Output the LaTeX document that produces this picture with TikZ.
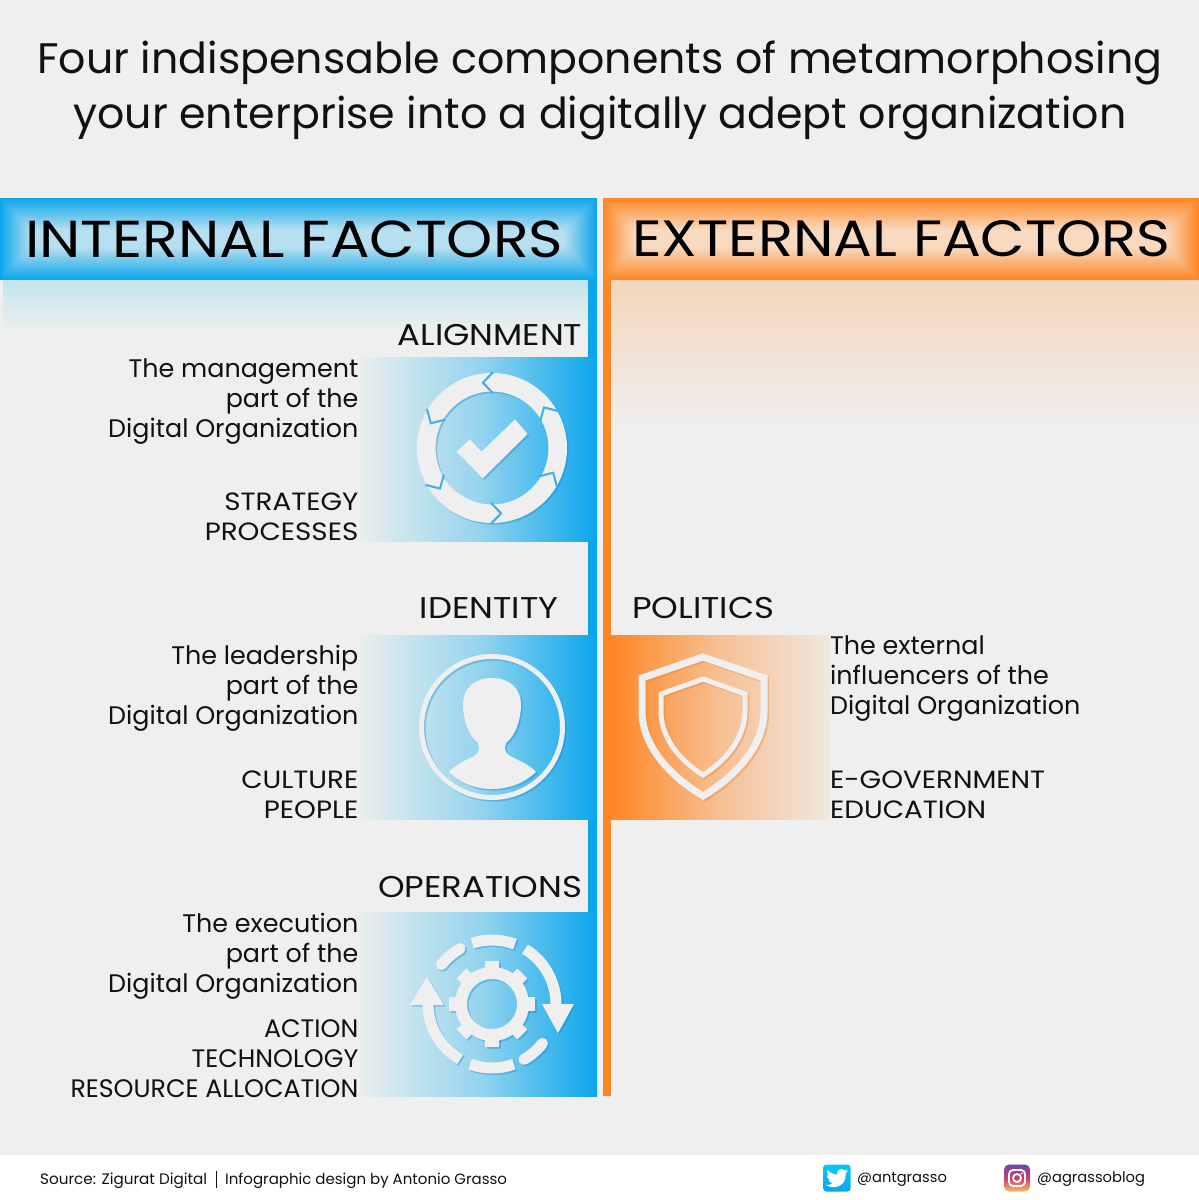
\documentclass[tikz,border=0pt]{standalone}
\usepackage{fontspec}
\setmainfont{Poppins}
\newfontfamily\capsfont[FakeStretch=1.13]{Poppins}
\newfontfamily\listfont[FakeStretch=1.11]{Poppins}
\usetikzlibrary{
  positioning,
  calc
}
\definecolor{pagegray}{RGB}{239,239,239}
\definecolor{intblue}{RGB}{10,166,236}
\definecolor{intlight}{RGB}{184,223,240}
\definecolor{intfade}{RGB}{195,228,238}
\definecolor{extorange}{RGB}{255,134,36}
\definecolor{extlight}{RGB}{248,218,192}
\definecolor{extfade}{RGB}{243,214,188}
\definecolor{panelblue}{RGB}{234,238,238}
\definecolor{panelbluemid}{RGB}{150,212,238}
\definecolor{panelorange}{RGB}{240,232,224}
\definecolor{panelorangemid}{RGB}{246,192,148}
\definecolor{inktext}{RGB}{17,17,17}
\definecolor{shadowblue}{RGB}{16,130,200}
\definecolor{shadoworange}{RGB}{230,120,40}
\definecolor{notchblue}{RGB}{60,175,232}
\definecolor{igpurple}{RGB}{112,70,172}
\definecolor{igred}{RGB}{205,60,110}
\definecolor{igyellow}{RGB}{250,190,90}

\begin{document}
\begin{tikzpicture}[
  x=1pt, y=-1pt,
  headtext/.style={inner sep=0pt, text=black, font=\capsfont\fontsize{52}{60}\selectfont},
  sectext/.style={inner sep=0pt, text=inktext, font=\capsfont\fontsize{30}{34}\selectfont},
  bodytext/.style={inner sep=0pt, text=inktext, align=right, anchor=north east,
                   font=\fontsize{25.4}{30}\selectfont},
  listtext/.style={bodytext, font=\listfont\fontsize{25}{30}\selectfont},
  foottext/.style={inner sep=0pt, text=inktext, anchor=west, font=\fontsize{15}{18}\selectfont},
  handletext/.style={foottext, font=\fontsize{14.7}{18}\selectfont},
  bluepanel/.style={inner sep=0pt, minimum width=237pt, minimum height=184pt,
                    left color=panelblue, right color=intblue, middle color=panelbluemid},
  orangepanel/.style={inner sep=0pt, minimum width=219pt, minimum height=184pt,
                      left color=extorange, right color=panelorange, middle color=panelorangemid},
  ringline/.style={line width=11pt}
]
\useasboundingbox (0,0) rectangle (1199,1200);
\fill[pagegray] (0,0) rectangle (1199,1200);
\fill[white] (0,1155) rectangle (1199,1200);

\node[inner sep=0pt, text=inktext, align=center, font=\fontsize{42.7}{55}\selectfont]
  (title) at (600,90) {Four indispensable components of metamorphosing\\your enterprise into a digitally adept organization};

% Headers
\foreach \i in {0,...,32}{
  \pgfmathtruncatemacro\mixval{100-3.1*\i}
  \pgfmathsetmacro\cornerval{\i/4}
  \fill[intblue!\mixval!intlight, rounded corners=\cornerval pt] (\i,198+\i) rectangle (597-\i,280-\i);
  \fill[extorange!\mixval!extlight, rounded corners=\cornerval pt] (603+\i,198+\i) rectangle (1199-\i,280-\i);
}
\node[headtext, anchor=west] (inthead) at (25,239) {INTERNAL FACTORS};
\node[headtext, anchor=east, font=\capsfont\fontsize{51}{60}\selectfont] (exthead) at (1171,239) {EXTERNAL FACTORS};

\shade[top color=intfade, bottom color=pagegray] (3,280) rectangle (588,332);
\shade[top color=extfade, bottom color=pagegray] (611,280) rectangle (1199,430);
\fill[intblue] (588,280) rectangle (597,1096);
\fill[extorange] (603,280) rectangle (611,1096);

% Panels
\node[bluepanel] (alignpanel) at (478.5,449) {};
\node[bluepanel] (identpanel) at (478.5,727) {};
\node[bluepanel] (operpanel) at (478.5,1004.5) {};
\node[orangepanel] (polipanel) at (720.5,727) {};

\node[sectext, anchor=east] (alignhead) at (582.5,335) {ALIGNMENT};
\node[sectext, anchor=east] (identhead) at (558.5,608.5) {IDENTITY};
\node[sectext, anchor=east] (operhead) at (582.5,887) {OPERATIONS};
\node[sectext, anchor=west] (polihead) at (632,608.5) {POLITICS};

\node[bodytext] (aligntext) at (358.5,358) {The management\\part of the\\Digital Organization};
\node[listtext] (alignlist) at (358.5,493) {STRATEGY\\PROCESSES};
\node[bodytext] (identtext) at (358.5,644.5) {The leadership\\part of the\\Digital Organization};
\node[listtext] (identlist) at (358.5,771) {CULTURE\\PEOPLE};
\node[bodytext] (opertext) at (358.5,912.5) {The execution\\part of the\\Digital Organization};
\node[bodytext, font=\fontsize{25.3}{30}\selectfont] (operlist) at (358.5,1019) {ACTION\\TECHNOLOGY\\RESOURCE ALLOCATION};
\node[bodytext, align=left, anchor=north west] (politext) at (830,635) {The external\\influencers of the\\Digital Organization};
\node[listtext, align=left, anchor=north west] (polilist) at (830,771) {E-GOVERNMENT\\EDUCATION};

% Icons
\coordinate (cycle) at (492,448);
\coordinate (person) at (492,727);
\coordinate (gear) at (492,1004);

\foreach \sx/\col/\op in {1.6/shadowblue/.35, 0/pagegray/1}{
  \begin{scope}[shift={(cycle)}, shift={(\sx,\sx)}, y=1pt, opacity=\op]
    \fill[\col, even odd rule] (0,0) circle (75) (0,0) circle (56.5);
    \fill[\col] (-35.3,-3.7) -- (-22,8.7) -- (-10.3,-3.7) -- (23,28.7) -- (35.7,14) -- (-9.3,-30.3) -- cycle;
  \end{scope}
  \begin{scope}[shift={(person)}, shift={(\sx,\sx)}, opacity=\op]
    \draw[\col, line width=5pt] (0,0) circle (70.5);
    \fill[\col] (0,-49) .. controls (18,-49) and (29,-38) .. (29,-23)
      .. controls (29,-8) and (24,8) .. (14,16) .. controls (12,22) and (13,26) .. (18,29)
      .. controls (28,34) and (38,38) .. (44,45) .. controls (30,58) and (14,62) .. (0,62)
      .. controls (-14,62) and (-30,58) .. (-43,45) .. controls (-37,38) and (-28,34) .. (-18,29)
      .. controls (-13,26) and (-12,22) .. (-14,16) .. controls (-24,8) and (-29,-8) .. (-29,-23)
      .. controls (-29,-38) and (-18,-49) .. (0,-49) -- cycle;
  \end{scope}
  \begin{scope}[shift={(gear)}, shift={(\sx,\sx)}, y=1pt, opacity=\op]
    \draw[\col, line width=12pt] (0,0) circle (31);
    \foreach \a in {0,45,...,315}
      \draw[\col, line width=14pt] (\a:32) -- (\a:43);
    \draw[ringline, \col] (108:64) arc (108:69:64);
    \draw[ringline, \col] (250:64) arc (250:290:64);
    \draw[ringline, \col, line cap=round] (120:64) arc (120:142:64);
    \draw[ringline, \col, line cap=round] (-60:64) arc (-60:-38:64);
    \draw[ringline, \col] (59:64) arc (59:0:64);
    \draw[ringline, \col] (240:64) arc (240:180:64);
    \fill[\col] (50,0) -- (82,0) -- (66,-29) -- cycle;
    \fill[\col] (-82,-1) -- (-48,-1) -- (-65,27) -- cycle;
  \end{scope}
}
\foreach \a in {89,29,-31,-91,-151,149}
  \draw[notchblue, line width=2pt, shift={(cycle)}, y=1pt] (\a:76) -- ({\a+9}:66) -- (\a:55);

\foreach \sx/\col/\op in {1.6/shadoworange/.35, 0/pagegray/1}{
  \begin{scope}[shift={(703,0)}, shift={(\sx,\sx)}, opacity=\op, line join=miter]
    \draw[\col, line width=7pt] (0,657) -- (61,678) -- (61,713)
      .. controls (60,745) and (35,775) .. (0,796)
      .. controls (-35,775) and (-60,745) .. (-61,713) -- (-61,678) -- cycle;
    \draw[\col, line width=5pt] (0,679) -- (42,694) -- (42,713)
      .. controls (41,738) and (24,760) .. (0,775)
      .. controls (-24,760) and (-41,738) .. (-42,713) -- (-42,694) -- cycle;
  \end{scope}
}

% Footer
\node[foottext, font=\fontsize{15.2}{18}\selectfont] (source) at (40,1181) {Source: Zigurat Digital};
\node[foottext] (design) at (225,1181) {Infographic design by Antonio Grasso};
\draw[inktext, line width=1pt] (216,1171) -- (216,1188);
\node[handletext] (twname) at (857,1179.5) {@antgrasso};
\node[handletext] (igname) at (1037,1179.5) {@agrassoblog};

\node[inner sep=0pt, minimum width=27pt, minimum height=27pt, rounded corners=3pt,
      top color=intblue!60!cyan, bottom color=intblue] (twicon) at (837,1178) {};
\begin{scope}[shift={(twicon.center)}, scale=.92, shift={(-12,-12)}]
  \fill[white] (23.95,4.57) -- (21.1,5.3) -- (23.3,2.6) -- (20.2,3.8) .. controls (18.5,1.8) and (15.5,1.8) .. (13.7,3.4)
    .. controls (12.3,4.7) and (11.5,6.3) .. (12.1,8.3) .. controls (7.7,8.1) and (4.1,6.1) .. (1.6,3.2)
    .. controls (.6,5) and (1.2,8.2) .. (3.2,9.7) -- (.9,9.1) .. controls (1,11.5) and (2.7,13.5) .. (4.9,14)
    -- (2.7,14.1) .. controls (3.4,16) and (5.2,17.4) .. (7.3,17.5) .. controls (5.4,19) and (2.8,19.8) .. (0,19.5)
    .. controls (7,24) and (15,22) .. (19,17) .. controls (21,14) and (21.6,11) .. (21.5,7.1) -- cycle;
\end{scope}
\node[inner sep=0pt, minimum width=26pt, minimum height=27pt, rounded corners=5pt,
      top color=igpurple, bottom color=igyellow, middle color=igred] (igicon) at (1017,1178) {};
\draw[white, line width=1.8pt, rounded corners=4pt] ($(igicon)+(-8,-8)$) rectangle ($(igicon)+(8,8)$);
\draw[white, line width=1.8pt] (igicon) circle (4);
\fill[white] ($(igicon)+(4.6,-4.6)$) circle (1);
\end{tikzpicture}
\end{document}
